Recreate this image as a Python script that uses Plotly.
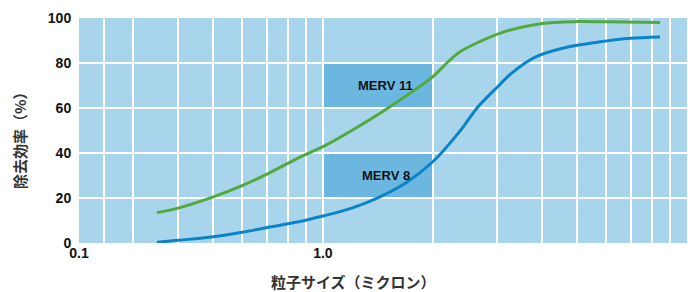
import math
import plotly.graph_objects as go

# ---- data ----
merv11_x = [0.35, 0.4, 0.5, 0.6, 0.7, 0.865, 1.0, 1.2, 1.51, 2.0, 2.19, 2.38, 3.07, 4.0, 5.0, 6.0, 8.43]
merv11_y = [13.5, 15.5, 20.5, 25.5, 30.5, 38.2, 42.8, 50, 60, 73.8, 80, 85, 93.3, 97.6, 98.4, 98.3, 98.0]

merv8_x = [0.35, 0.4, 0.5, 0.6, 0.715, 0.85, 1.0, 1.2, 1.43, 1.7, 2.0, 2.4, 2.65, 3.0, 3.3, 3.84, 4.67, 5.77, 7.0, 8.43]
merv8_y = [0.3, 1.2, 2.8, 4.8, 7.1, 9.3, 12, 15.5, 20.4, 27, 36, 50.5, 60, 69, 75.5, 82.7, 87, 89.4, 91, 91.6]

box_labels = ["MERV 11", "MERV 8"]
box_x = [1.0, 2.0]
box_y = [[60, 80], [20, 40]]
label_x = 1.49

x_left = 10 ** -0.670
x_ticktext = ["0.1", "1.0", "10"]
x_tickvals = [x_left, 1, 10]
x_grid = [0.25, 0.3, 0.4, 0.5, 0.6, 0.7, 0.8, 0.9, 1, 2, 3, 4, 5, 6, 7, 8, 9]
y_tickvals = [0, 20, 40, 60, 80, 100]
y_grid = [20, 40, 60, 80]

x_title = "粒子サイズ（ミクロン）"
y_title = "除去効率（%）"

BG = "#a8d4ec"
BOX = "#6cb7e0"
GREEN = "#52aa3a"
BLUE = "#0a84c8"
LAT = "Liberation Sans, Arial, sans-serif"
CJK = "Noto Sans CJK JP, sans-serif"

fig = go.Figure()
fig.add_trace(go.Scatter(x=merv11_x, y=merv11_y, mode="lines", line=dict(color=GREEN, width=3, shape="spline", smoothing=0.8), showlegend=False, hoverinfo="skip"))
fig.add_trace(go.Scatter(x=merv8_x, y=merv8_y, mode="lines", line=dict(color=BLUE, width=3, shape="spline", smoothing=0.8), showlegend=False, hoverinfo="skip"))

for lab, (y0, y1) in zip(box_labels, box_y):
    fig.add_shape(type="rect", xref="x", yref="y", x0=box_x[0], x1=box_x[1], y0=y0, y1=y1,
                  fillcolor=BOX, line=dict(width=0), layer="below")
    fig.add_annotation(x=math.log10(label_x), y=(y0 + y1) / 2, xref="x", yref="y", text=lab,
                       showarrow=False, font=dict(family=LAT, size=13, color="#111", weight="bold"))

fig.add_annotation(x=0.452, y=-0.172, xref="paper", yref="paper", text=x_title, showarrow=False,
                   font=dict(family=CJK, size=15, color="#333", weight="bold"), xanchor="center", yanchor="middle")
fig.add_annotation(x=-0.0987, y=0.471, xref="paper", yref="paper", text=y_title, showarrow=False,
                   textangle=-90, font=dict(family=CJK, size=15, color="#333", weight="bold"), xanchor="center", yanchor="middle")

fig.update_layout(
    width=692, height=292,
    margin=dict(l=79, r=5, t=18, b=49),
    paper_bgcolor="white", plot_bgcolor=BG,
    xaxis=dict(type="log", range=[math.log10(x_left), 1.0], tickmode="array", tickvals=x_tickvals,
               ticktext=x_ticktext, showgrid=False, zeroline=False, showline=False,
               tickfont=dict(family=LAT, size=14, color="#111", weight="bold"),
               minor=dict(tickmode="array", tickvals=x_grid, showgrid=True, gridcolor="white", gridwidth=2, ticks="")),
    yaxis=dict(range=[0, 100], tickmode="array", tickvals=y_tickvals, showgrid=False, zeroline=False,
               showline=False, ticks="outside", ticklen=4, tickcolor="rgba(0,0,0,0)",
               tickfont=dict(family=LAT, size=14, color="#111", weight="bold"),
               minor=dict(tickmode="array", tickvals=y_grid, showgrid=True, gridcolor="white", gridwidth=2, ticks="")),
)

fig.write_html("out.html", post_script="document.body.style.margin='0';",
               config={"displayModeBar": False})
